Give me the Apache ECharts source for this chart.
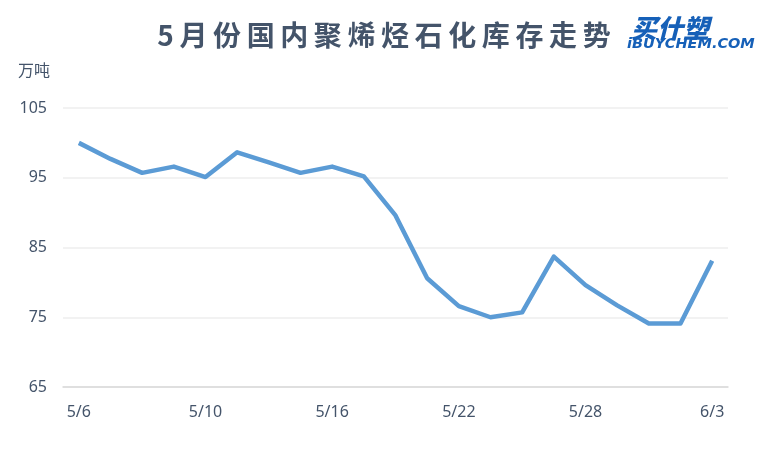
<!DOCTYPE html>
<html><head><meta charset="utf-8">
<script src="https://cdn.jsdelivr.net/npm/echarts@6/dist/echarts.min.js"></script>
<style>html,body{margin:0;padding:0;background:#fff}#c{width:762px;height:461px}</style>
</head><body><div id="c"></div>
<script>
const titleText = '5\u2009月\u2009份\u2009国\u2009内\u2009聚\u2009烯\u2009烃\u2009石\u2009化\u2009库\u2009存\u2009走\u2009势';
const unitName = '万吨';
const categories = ['5/6','5/7','5/8','5/9','5/10','5/13','5/14','5/15','5/16','5/17','5/20','5/21','5/22','5/23','5/24','5/27','5/28','5/29','5/30','5/31','6/3'];
const inventory = [100.0, 97.7, 95.7, 96.6, 95.1, 98.65, 97.2, 95.7, 96.6, 95.2, 89.6, 80.6, 76.6, 75.0, 75.7, 83.7, 79.6, 76.7, 74.1, 74.1, 83.1];
const yMin = 65, yMax = 105, yStep = 10;

const chart = echarts.init(document.getElementById('c'), null, {renderer:'canvas'});
const labelFont = '"Noto Sans", sans-serif';
chart.setOption({
  animation:false,
  backgroundColor:'#fff',
  title:{text:titleText,left:379,top:16,textAlign:'center',
    textStyle:{fontSize:28,fontWeight:'bold',color:'#44546A',fontFamily:'"Noto Sans CJK SC", sans-serif'}},
  graphic:[
    {type:'text',left:631,top:15,style:{text:'买什塑',fontSize:26,fontStyle:'italic',fontWeight:900,fill:'#1660B8',fontFamily:'"Noto Sans CJK SC", sans-serif'}},
    {type:'text',left:627,top:37,style:{text:'iBUYCHEM.COM',fontSize:14.5,fontStyle:'italic',fontWeight:900,fill:'#1660B8',fontFamily:'"DejaVu Sans", sans-serif'}}
  ],
  grid:{left:63,right:34,top:108,bottom:74},
  xAxis:{type:'category',data:categories,boundaryGap:true,
    axisLine:{show:true,lineStyle:{color:'#D9D9D9',width:1.5}},
    axisTick:{show:false},
    axisLabel:{interval:3,margin:17,fontSize:16,color:'#44546A',fontFamily:labelFont}},
  yAxis:{type:'value',min:yMin,max:yMax,interval:yStep,
    name:unitName,nameLocation:'end',nameGap:30,
    nameTextStyle:{align:'right',padding:[0,13,0,0],fontSize:16,color:'#44546A',fontFamily:'"Noto Sans CJK SC", sans-serif'},
    axisLine:{show:false},axisTick:{show:false},
    axisLabel:{margin:16,fontSize:16,color:'#44546A',fontFamily:labelFont},
    splitLine:{lineStyle:{color:'#EEEEEE',width:1.5}}},
  series:[{type:'line',data:inventory,symbol:'none',
    lineStyle:{color:'#5B9BD5',width:4.5,join:'round'}}]
});
</script></body></html>
